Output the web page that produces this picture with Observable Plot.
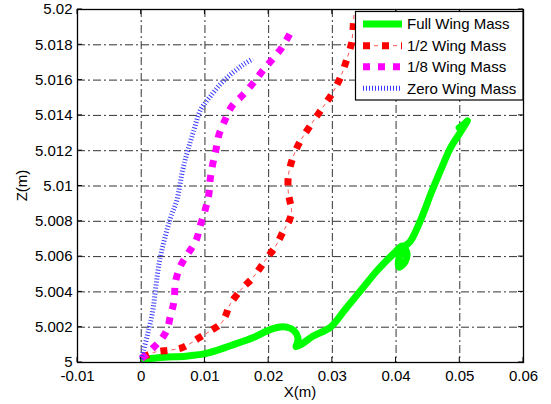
<!DOCTYPE html>
<html>
<head>
<meta charset="utf-8">
<script src="https://cdn.jsdelivr.net/npm/d3@7"></script>
<script src="https://cdn.jsdelivr.net/npm/@observablehq/plot@0.6"></script>
<style>
  html, body { margin: 0; padding: 0; background: #fff; }
  #chart { width: 551px; height: 404px; }
</style>
</head>
<body>
<div id="chart"></div>
<script>
// ---- data ----
const seriesNames = ["Full Wing Mass", "1/2 Wing Mass", "1/8 Wing Mass", "Zero Wing Mass"];
const xTicks = [-0.01, 0, 0.01, 0.02, 0.03, 0.04, 0.05, 0.06];
const zTicks = [5, 5.002, 5.004, 5.006, 5.008, 5.01, 5.012, 5.014, 5.016, 5.018, 5.02];

const fullX = [0.0005, 0.0036, 0.0070, 0.0100, 0.0120, 0.0140, 0.0175, 0.0198, 0.0215, 0.0228, 0.0240, 0.0246, 0.0245, 0.0243, 0.0250, 0.0270, 0.0297, 0.0320, 0.0345, 0.0370, 0.0397, 0.0410, 0.0417, 0.0414, 0.0405, 0.0404, 0.0412, 0.0423, 0.0440, 0.0455, 0.0470, 0.0486, 0.0500, 0.0512, 0.0507, 0.0499];
const fullZ = [5.0002, 5.0003, 5.00036, 5.0005, 5.0007, 5.00095, 5.0014, 5.0018, 5.0020, 5.0020, 5.0018, 5.0014, 5.0011, 5.0009, 5.0010, 5.0015, 5.0020, 5.0030, 5.0041, 5.0052, 5.0062, 5.0066, 5.0062, 5.0057, 5.0054, 5.0058, 5.0065, 5.0069, 5.0082, 5.0096, 5.0109, 5.0122, 5.0130, 5.0137, 5.0135, 5.0133];

const halfX = [0.0002, 0.0023, 0.0045, 0.0065, 0.0091, 0.0109, 0.0125, 0.0133, 0.0138, 0.0156, 0.0175, 0.0195, 0.0211, 0.0224, 0.0233, 0.0236, 0.0233, 0.0231, 0.0231, 0.0238, 0.0249, 0.0265, 0.0282, 0.0299, 0.0312, 0.0322, 0.0330, 0.0333, 0.0334];
const halfZ = [5.0003, 5.0006, 5.0007, 5.00085, 5.0014, 5.0018, 5.0022, 5.0027, 5.0032, 5.0041, 5.0048, 5.0058, 5.0066, 5.0075, 5.0081, 5.0086, 5.0092, 5.0096, 5.0106, 5.0116, 5.0125, 5.0134, 5.0143, 5.0152, 5.0161, 5.0171, 5.0181, 5.0192, 5.0198];

const eighthX = [0.0000, 0.0015, 0.0031, 0.0041, 0.0046, 0.0050, 0.0052, 0.0054, 0.0062, 0.0074, 0.0086, 0.0093, 0.0100, 0.0106, 0.0108, 0.0112, 0.0117, 0.0122, 0.0131, 0.0142, 0.0158, 0.0175, 0.0190, 0.0204, 0.0220, 0.0233];
const eighthZ = [5.0002, 5.0007, 5.0013, 5.0019, 5.0027, 5.0032, 5.0037, 5.0046, 5.0055, 5.0062, 5.0069, 5.0078, 5.0086, 5.0095, 5.0103, 5.0112, 5.0120, 5.0129, 5.0137, 5.0145, 5.0151, 5.0158, 5.0165, 5.0171, 5.0178, 5.0186];

const zeroX = [0.0000, 0.0003, 0.0010, 0.0018, 0.0023, 0.0028, 0.0036, 0.0046, 0.0056, 0.0065, 0.0073, 0.0083, 0.0093, 0.0109, 0.0125, 0.0143, 0.0161, 0.0175];
const zeroZ = [5.0002, 5.0006, 5.0016, 5.0029, 5.0043, 5.0056, 5.0069, 5.0082, 5.0092, 5.0109, 5.0120, 5.0132, 5.0143, 5.0151, 5.0158, 5.0164, 5.0169, 5.0172];

const toRows = (xs, zs) => xs.map((x, i) => ({x, z: zs[i]}));
const full = toRows(fullX, fullZ);
const half = toRows(halfX, halfZ);
const eighth = toRows(eighthX, eighthZ);
const zero = toRows(zeroX, zeroZ);

// ---- styles ----
const FONT = "'Liberation Sans', Arial, Helvetica, sans-serif";
const gridDash = "8 3 2 3";
const styles = [
  [{stroke: "#00ff00", strokeWidth: 7, strokeLinecap: "round", strokeLinejoin: "round"}],
  [{stroke: "#ff0000", strokeWidth: 7, strokeDasharray: "7 12", strokeLinecap: "butt", strokeLinejoin: "miter"},
   {stroke: "#ff5555", strokeWidth: 1, strokeDasharray: "0 11 4 4", strokeLinecap: "butt"}],
  [{stroke: "#ff00ff", strokeWidth: 7, strokeDasharray: "7 8", strokeLinecap: "butt", strokeLinejoin: "miter"}],
  [{stroke: "#3a3aff", strokeWidth: 5, strokeDasharray: "1 2", strokeLinecap: "butt", strokeLinejoin: "miter"}]
];
const datasets = [full, half, eighth, zero];

const marks = [
  Plot.ruleX(xTicks.slice(1, -1), {stroke: "#333", strokeWidth: 1, strokeDasharray: gridDash}),
  Plot.ruleY(zTicks.slice(1, -1), {stroke: "#333", strokeWidth: 1, strokeDasharray: gridDash})
];
datasets.forEach((d, i) => {
  styles[i].forEach(s => marks.push(Plot.line(d, {x: "x", y: "z", curve: "catmull-rom", ...s})));
});
marks.push(Plot.frame({stroke: "#000", strokeWidth: 1.3}));

const fmtX = d => String(Math.round(d * 100) / 100);
const fmtZ = d => String(Math.round(d * 1000) / 1000);

const plot = Plot.plot({
  width: 551,
  height: 404,
  marginLeft: 77,
  marginRight: 28,
  marginTop: 9,
  marginBottom: 42,
  style: {fontFamily: FONT, fontSize: "15px", color: "#000", background: "#fff"},
  x: {domain: [-0.01, 0.06], ticks: xTicks, tickFormat: fmtX, tickSize: 0, tickPadding: 8, label: null},
  y: {domain: [5, 5.02], ticks: zTicks, tickFormat: fmtZ, tickSize: 0, tickPadding: 5, label: null},
  marks
});
document.getElementById("chart").appendChild(plot);

// ---- inward ticks, axis labels, legend (drawn as paths) ----
const svg = d3.select(plot);
const sx = plot.scale("x"), sy = plot.scale("y");
const X = v => sx.apply(v), Y = v => sy.apply(v);
const x0 = X(-0.01), x1 = X(0.06), y0 = Y(5), y1 = Y(5.02);
const tl = 5;
let td = "";
xTicks.forEach(t => {
  td += `M${X(t)},${y0}V${y0 - tl}M${X(t)},${y1}V${y1 + tl}`;
});
zTicks.forEach(t => {
  td += `M${x0},${Y(t)}H${x0 + tl}M${x1},${Y(t)}H${x1 - tl}`;
});
svg.append("path").attr("d", td).attr("fill", "none").attr("stroke", "#000").attr("stroke-width", 1);

svg.append("text").attr("x", (x0 + x1) / 2).attr("y", 396.5)
  .attr("text-anchor", "middle").attr("font-family", FONT).attr("font-size", 15).attr("fill", "#000").text("X(m)");
svg.append("text").attr("transform", `translate(26.5,${(y0 + y1) / 2}) rotate(-90)`)
  .attr("text-anchor", "middle").attr("font-family", FONT).attr("font-size", 15).attr("fill", "#000").text("Z(m)");

const lg = svg.append("g");
const lx = 355.5, ly = 11.5, lw = x1 - 355.5, lh = 88.5;
lg.append("rect").attr("x", lx).attr("y", ly).attr("width", lw).attr("height", lh)
  .attr("fill", "#fff").attr("stroke", "#000").attr("stroke-width", 1.2);
const rowY = [24, 45.7, 66.7, 88.3];
seriesNames.forEach((name, i) => {
  styles[i].forEach(s => {
    const p = lg.append("path").attr("d", `M363,${rowY[i]}H402`).attr("fill", "none")
      .attr("stroke", s.stroke).attr("stroke-width", s.strokeWidth)
      .attr("stroke-linecap", "butt");
    if (s.strokeDasharray) p.attr("stroke-dasharray", s.strokeDasharray);
  });
  lg.append("text").attr("x", 407).attr("y", rowY[i] + 5.4).attr("text-anchor", "start")
    .attr("font-family", FONT).attr("font-size", 15).attr("fill", "#000").text(name);
});
</script>
</body>
</html>
